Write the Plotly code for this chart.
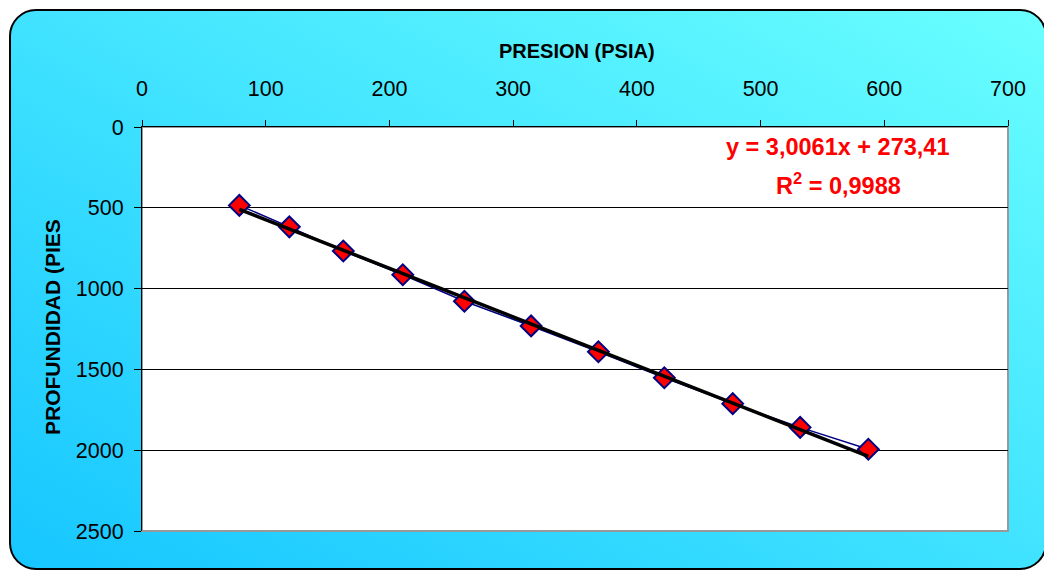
import base64
import numpy as np
import plotly.graph_objects as go

# Pressure (psia) and depth (ft) readings
presion = [78.7, 119.1, 162.7, 210.8, 260.6, 314.5, 368.9, 422.2, 477.5, 532.0, 587.1]
profundidad = [485, 618, 767, 914, 1078, 1231, 1391, 1552, 1712, 1859, 1994]

# Linear trend reported on the chart
pendiente = 3.0061
intercepto = 273.41
r2 = 0.9988

x_ticks = [0, 100, 200, 300, 400, 500, 600, 700]
y_ticks = [0, 500, 1000, 1500, 2000, 2500]

W, H = 1044, 571
ML, MR, MT, MB = 142, 36, 127, 40
PW, PH = W - ML - MR, H - MT - MB

FONT = "Liberation Sans, Arial, sans-serif"

# Rounded, gradient-filled chart frame
svg = f"""<svg xmlns='http://www.w3.org/2000/svg' width='{W}' height='{H}' viewBox='0 0 {W} {H}'>
<defs><linearGradient id='g' x1='0' y1='1' x2='1' y2='0'>
<stop offset='0' stop-color='#16C6FF'/><stop offset='1' stop-color='#6AFFFF'/>
</linearGradient></defs>
<rect x='0' y='0' width='{W}' height='{H}' fill='white'/>
<rect x='10' y='10' width='1036' height='559' rx='26' ry='26' fill='url(#g)' stroke='black' stroke-width='2'/>
</svg>"""
bg_src = "data:image/svg+xml;base64," + base64.b64encode(svg.encode()).decode()

fig = go.Figure()

# Data series: line joining the points with diamond markers
fig.add_trace(go.Scatter(
    x=presion, y=profundidad, mode="lines+markers",
    line=dict(color="#000080", width=1.5),
    marker=dict(symbol="diamond", size=16, color="red",
                line=dict(color="#000080", width=2)),
    showlegend=False, hoverinfo="x+y",
))

# Trend line over the data range
xt = np.array([min(presion), max(presion)])
fig.add_trace(go.Scatter(
    x=xt, y=pendiente * xt + intercepto, mode="lines",
    line=dict(color="black", width=3.5),
    showlegend=False, hoverinfo="skip",
))

fig.update_layout(
    width=W, height=H,
    margin=dict(l=ML, r=MR, t=MT, b=MB),
    paper_bgcolor="white",
    plot_bgcolor="rgba(0,0,0,0)",
    font=dict(family=FONT, color="black", size=21),
    images=[dict(
        source=bg_src, xref="paper", yref="paper",
        x=-ML / PW, y=1 + MT / PH, sizex=W / PW, sizey=H / PH,
        xanchor="left", yanchor="top", sizing="stretch", layer="below",
    )],
    shapes=[dict(
        type="rect", xref="paper", yref="paper", x0=0, x1=1, y0=0, y1=1,
        fillcolor="white", line=dict(color="#999999", width=2), layer="below",
    )],
    xaxis=dict(
        side="top", range=[0, 700], tickvals=x_ticks,
        ticktext=[str(v) for v in x_ticks],
        showgrid=False, zeroline=False,
        showline=True, linecolor="black", linewidth=1,
        ticks="outside", ticklen=6, tickcolor="black",
        ticklabelstandoff=15,
        tickfont=dict(size=21.5, family=FONT),
    ),
    yaxis=dict(
        range=[2500, 0], tickvals=y_ticks,
        ticktext=[str(v) for v in y_ticks],
        showgrid=True, gridcolor="black", gridwidth=1,
        zeroline=False,
        showline=True, linecolor="black", linewidth=1,
        ticks="outside", ticklen=7, tickcolor="black",
        ticklabelstandoff=6,
        tickfont=dict(size=21.5, family=FONT),
    ),
    annotations=[
        dict(text="<b>PRESION (PSIA)</b>", xref="paper", yref="paper",
             x=(577 - ML) / PW, y=1 + (MT - 51) / PH,
             showarrow=False, xanchor="center", yanchor="middle",
             font=dict(size=20, family=FONT)),
        dict(text="<b>PROFUNDIDAD (PIES</b>", xref="paper", yref="paper",
             x=(52 - ML) / PW, y=1 - (327 - MT) / PH, textangle=-90,
             showarrow=False, xanchor="center", yanchor="middle",
             font=dict(size=21, family=FONT)),
        dict(text=f"<b>y = {str(pendiente).replace('.', ',')}x + {str(intercepto).replace('.', ',')}</b>",
             xref="paper", yref="paper",
             x=(837 - ML) / PW, y=1 - (147 - MT) / PH,
             showarrow=False, xanchor="center", yanchor="middle",
             font=dict(size=23.5, family=FONT, color="red")),
        dict(text=f"<b>R<sup>2</sup> = {str(r2).replace('.', ',')}</b>",
             xref="paper", yref="paper",
             x=(838 - ML) / PW, y=1 - (184 - MT) / PH,
             showarrow=False, xanchor="center", yanchor="middle",
             font=dict(size=23.5, family=FONT, color="red")),
    ],
)

fig.write_html("out.html")
